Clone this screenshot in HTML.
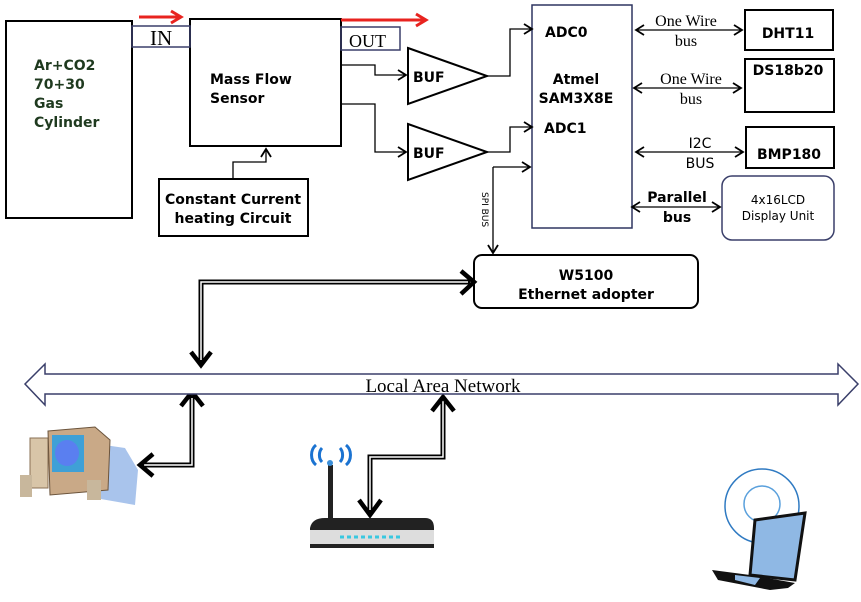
<!DOCTYPE html>
<html><head><meta charset="utf-8"><style>
html,body{margin:0;padding:0;background:#fff;}
svg{display:block;}
.s{font-family:"DejaVu Sans","Liberation Sans",sans-serif;font-weight:bold;font-size:14px;}
.r{font-family:"Liberation Serif",serif;}
</style></head><body>
<svg width="861" height="602" viewBox="0 0 861 602" xmlns="http://www.w3.org/2000/svg">
<defs>
<marker id="a" markerWidth="12" markerHeight="12" refX="9" refY="6" orient="auto" markerUnits="userSpaceOnUse"><path d="M1,1 L9,6 L1,11" fill="none" stroke="#000" stroke-width="1.8"/></marker>
<marker id="b" markerWidth="12" markerHeight="12" refX="3" refY="6" orient="auto" markerUnits="userSpaceOnUse"><path d="M11,1 L3,6 L11,11" fill="none" stroke="#000" stroke-width="1.8"/></marker>
</defs>
<g fill="none" stroke="#000" stroke-width="2">
<rect x="6" y="21" width="126" height="197"/>
<rect x="190" y="19" width="151" height="127"/>
<rect x="159" y="179" width="149" height="57"/>
<rect x="745" y="10" width="88" height="40"/>
<rect x="745" y="59" width="89" height="53"/>
<rect x="746" y="127" width="88" height="41"/>
<rect x="474" y="255" width="224" height="53" rx="8"/>
<path d="M408,48 L487,76 L408,104 Z"/>
<path d="M408,124 L487,152 L408,180 Z"/>
</g>
<rect x="132" y="26" width="58" height="21" fill="none" stroke="#3a3f6a" stroke-width="1.5"/>
<rect x="341" y="27" width="59" height="23" fill="none" stroke="#3a3f6a" stroke-width="1.5"/>
<rect x="532" y="5" width="100" height="223" fill="none" stroke="#2f3560" stroke-width="1.5"/>
<rect x="722" y="176" width="112" height="64" rx="10" fill="none" stroke="#3a3f6a" stroke-width="1.5"/>
<g stroke="#e8231f" stroke-width="3" fill="none">
<path d="M139,17 H180"/><path d="M171,11 L181,17 L171,23"/>
<path d="M341,20 H425"/><path d="M416,14 L426,20 L416,26"/>
</g>
<g fill="none" stroke="#000" stroke-width="1.3">
<path d="M341,65 H375 V75 H406" marker-end="url(#a)"/>
<path d="M341,104 H375 V152 H406" marker-end="url(#a)"/>
<path d="M233,179 V162 H266 V149" marker-end="url(#a)"/>
<path d="M487,76 H510 V29 H532" marker-end="url(#a)"/>
<path d="M487,152 H510 V127 H532" marker-end="url(#a)"/>
<path d="M493,167 H530" marker-end="url(#a)"/>
<path d="M493,167 V253" marker-end="url(#a)"/>
<path d="M636,30 H742" marker-start="url(#b)" marker-end="url(#a)"/>
<path d="M634,88 H741" marker-start="url(#b)" marker-end="url(#a)"/>
<path d="M636,152 H743" marker-start="url(#b)" marker-end="url(#a)"/>
<path d="M632,207 H720" marker-start="url(#b)" marker-end="url(#a)"/>
</g>
<g fill="none" stroke="#000" stroke-width="5">
<path d="M470,282 H201 V362"/>
<path d="M192,396 V465 H142"/>
<path d="M443,397 V457 H370 V512"/>
</g>
<g fill="none" stroke="#fff" stroke-width="1.5">
<path d="M468,282 H201 V360"/>
<path d="M192,398 V465 H144"/>
<path d="M443,399 V457 H370 V510"/>
</g>
<g fill="none" stroke="#000" stroke-width="4.5" stroke-linejoin="miter">
<path d="M461,271 L474,282 L461,294"/>
<path d="M191,352 L201,365 L211,352"/>
<path d="M181,406 L192,392 L203,406"/>
<path d="M153,454 L140,465 L153,476"/>
<path d="M432,411 L443,397 L454,411"/>
<path d="M359,500 L370,515 L381,500"/>
</g>
<path d="M25,384 L45,364 V374 H838 V364 L858,384 L838,405 V394 H45 V405 Z" fill="#fff" stroke="#3a3f6a" stroke-width="1.5"/>
<text x="443" y="392" text-anchor="middle" class="r" font-size="19">Local  Area  Network</text>
<text x="150" y="45" class="r" font-size="21">IN</text>
<text x="349" y="47" class="r" font-size="18">OUT</text>
<g class="s" fill="#1f3a1f"><text x="34" y="70">Ar+CO2</text><text x="34" y="89">70+30</text><text x="34" y="108">Gas</text><text x="34" y="127">Cylinder</text></g>
<g class="s"><text x="210" y="84">Mass Flow</text><text x="210" y="103">Sensor</text>
<text x="233" y="204" text-anchor="middle">Constant Current</text><text x="233" y="223" text-anchor="middle">heating  Circuit</text>
<text x="413" y="82">BUF</text><text x="413" y="158">BUF</text>
<text x="545" y="37">ADC0</text><text x="576" y="84" text-anchor="middle">Atmel</text><text x="576" y="103" text-anchor="middle">SAM3X8E</text><text x="544" y="133">ADC1</text>
<text x="788" y="38" text-anchor="middle">DHT11</text><text x="788" y="75" text-anchor="middle">DS18b20</text><text x="789" y="159" text-anchor="middle">BMP180</text>
<text x="677" y="202" text-anchor="middle">Parallel</text><text x="677" y="222" text-anchor="middle">bus</text>
<text x="586" y="280" text-anchor="middle">W5100</text><text x="586" y="299" text-anchor="middle">Ethernet adopter</text></g>
<g font-family="DejaVu Sans, sans-serif" font-size="12" text-anchor="middle"><text x="778" y="204">4x16LCD</text><text x="778" y="220">Display Unit</text></g>
<g font-family="DejaVu Sans, sans-serif" font-size="14" text-anchor="middle"><text x="700" y="148">I2C</text><text x="700" y="168">BUS</text></g>
<g class="r" font-size="16" text-anchor="middle"><text x="686" y="26">One Wire</text><text x="686" y="46">bus</text><text x="691" y="84">One Wire</text><text x="691" y="104">bus</text></g>
<text transform="translate(482,192) rotate(90)" font-family="DejaVu Sans, sans-serif" font-size="9">SPI BUS</text>
<g>
<path d="M70,440 L125,448 L138,470 L135,505 L95,498 Z" fill="#a9c4ec"/>
<rect x="30" y="438" width="18" height="50" fill="#d8c5a8" stroke="#8a7055"/>
<path d="M48,431 L95,427 L110,440 L108,490 L50,495 Z" fill="#c9a987" stroke="#6b543c"/>
<rect x="52" y="435" width="32" height="37" fill="#3fa0d6"/>
<ellipse cx="67" cy="453" rx="12" ry="13" fill="#5a7ff0"/>
<rect x="20" y="475" width="12" height="22" fill="#c8b79c"/>
<rect x="87" y="480" width="14" height="20" fill="#c8b79c"/>
</g>
<g>
<path d="M316,465 a10,12 0 0 1 0,-20 M322,462 a7,9 0 0 1 0,-14 M346,445 a10,12 0 0 1 0,20 M340,448 a7,9 0 0 1 0,14" fill="none" stroke="#1b73d1" stroke-width="3"/>
<rect x="328" y="465" width="5" height="53" fill="#222"/>
<circle cx="330" cy="463" r="3" fill="#3a8ed8"/>
<path d="M310,528 Q312,518 325,518 L425,518 Q434,518 434,528 L434,548 L310,548 Z" fill="#222"/>
<rect x="310" y="530" width="124" height="14" fill="#ddd"/>
<path d="M340,537 H400" stroke="#39c8e0" stroke-width="3" stroke-dasharray="4,3"/>
</g>
<g>
<circle cx="762" cy="506" r="37" fill="none" stroke="#2f7ac2" stroke-width="1.5"/>
<circle cx="762" cy="504" r="18" fill="none" stroke="#5aa0dc" stroke-width="1.5"/>
<path d="M755,520 L805,513 L795,580 L750,575 Z" fill="#8fb8e4" stroke="#111" stroke-width="3"/>
<path d="M712,570 L750,575 L795,583 L788,588 L770,590 L718,580 Z" fill="#111"/>
<path d="M735,575 L760,578 L755,585 L735,580 Z" fill="#8fb8e4"/>
</g>
</svg>
</body></html>
